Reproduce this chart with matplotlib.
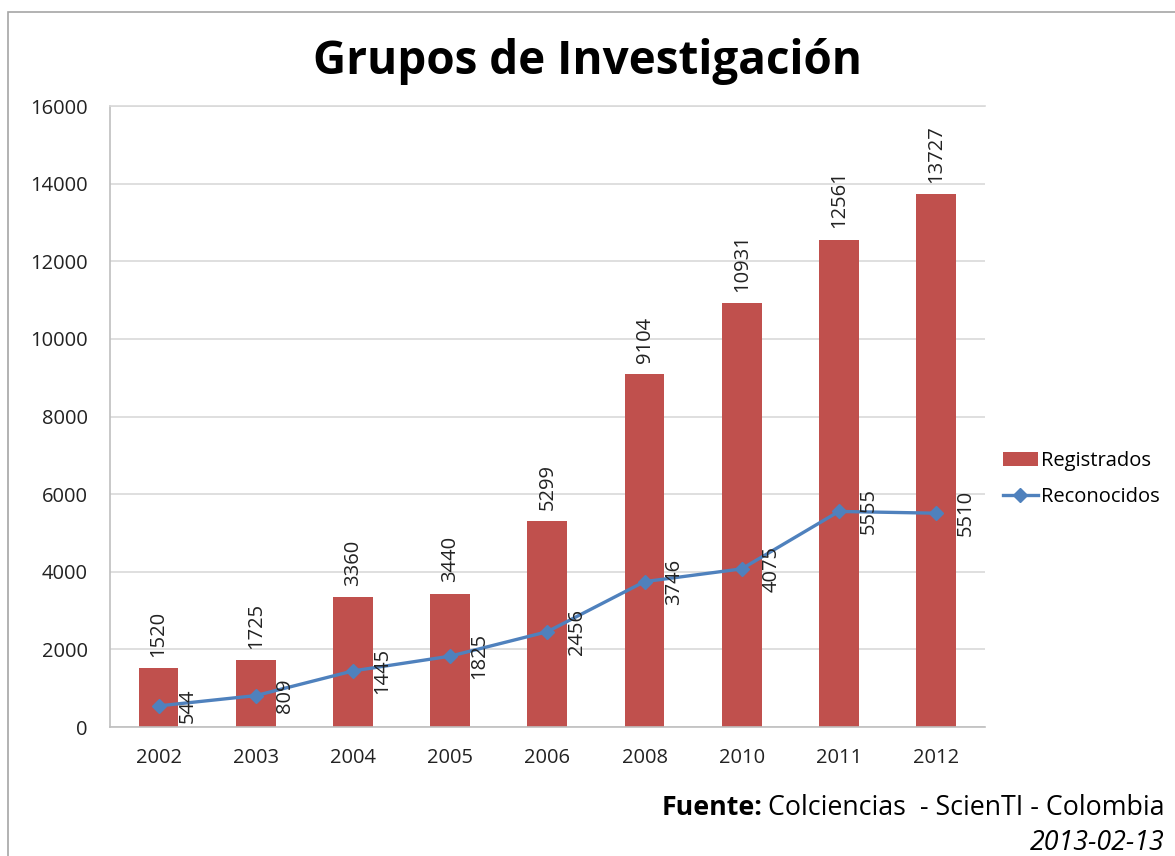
import matplotlib.pyplot as plt
import numpy as np
from matplotlib.patches import Rectangle

# -------- datos --------
years       = ['2002', '2003', '2004', '2005', '2006', '2008', '2010', '2011', '2012']
registrados = [1520, 1725, 3360, 3440, 5299, 9104, 10931, 12561, 13727]
reconocidos = [544, 809, 1445, 1825, 2456, 3746, 4075, 5555, 5510]

BAR_C  = '#C0504D'
LINE_C = '#4F81BD'
GRID_C = '#D9D9D9'
FONT   = ['Open Sans', 'DejaVu Sans']

plt.rcParams['font.family'] = FONT

fig = plt.figure(figsize=(11.75, 8.56), dpi=100)
ax = fig.add_axes([0.0936, 0.1507, 0.7444, 0.7253])

x = np.arange(len(years))
bars = ax.bar(x, registrados, width=0.41, color=BAR_C, label='Registrados', zorder=2)
ln, = ax.plot(x, reconocidos, '-', color=LINE_C, lw=2.4, marker='D', ms=7.5,
              label='Reconocidos', zorder=3)

# etiquetas de datos
for xi, v in zip(x, registrados):
    ax.annotate(str(v), (xi, v), xytext=(0, 8), textcoords='offset points',
                rotation=90, ha='center', va='bottom', fontsize=14.5, color='#222222')
for xi, v in zip(x, reconocidos):
    ax.annotate(str(v), (xi, v), xytext=(14, 0), textcoords='offset points',
                rotation=90, ha='left', va='center', fontsize=14.5, color='#222222')

ax.set_ylim(0, 16000)
ax.set_yticks(range(0, 16001, 2000))
ax.set_xlim(-0.5, len(years) - 0.5)
ax.set_xticks(x)
ax.set_xticklabels(years)
ax.tick_params(axis='both', labelsize=14.5, colors='#222222', length=0)
ax.tick_params(axis='y', pad=16)
ax.tick_params(axis='x', pad=15)
ax.yaxis.grid(True, color=GRID_C, lw=1.2, zorder=0)
ax.set_axisbelow(True)
for s in ax.spines.values():
    s.set_color('#BFBFBF')
    s.set_linewidth(1.2)
ax.spines['right'].set_visible(False)
ax.spines['top'].set_color(GRID_C)

fig.text(0.5, 0.928, 'Grupos de Investigación', ha='center', va='center',
         fontsize=33, fontweight='bold')

ax.legend([bars, ln], ['Registrados', 'Reconocidos'], loc='center left',
          bbox_to_anchor=(1.0, 0.40), frameon=False, fontsize=14.5,
          handlelength=1.75, handletextpad=0.15, labelspacing=0.8)

# fuente
t1 = fig.text(0.991, 0.056, 'Colciencias  - ScienTI - Colombia', ha='right',
              va='center', fontsize=19.3)
fig.canvas.draw()
bb = t1.get_window_extent()
fig.text(bb.x0 / fig.bbox.width - 0.005, 0.056, 'Fuente:', ha='right',
         va='center', fontsize=19.3, fontweight='bold')
fig.text(0.991, 0.015, '2013-02-13', ha='right', va='center', fontsize=19.3,
         style='italic')

# borde de la figura
fig.patches.append(Rectangle((0.007, -0.01), 1.0, 0.996, transform=fig.transFigure,
                             fill=False, edgecolor='#A6A6A6', lw=1.2))

fig.savefig('out.png', dpi=100)
